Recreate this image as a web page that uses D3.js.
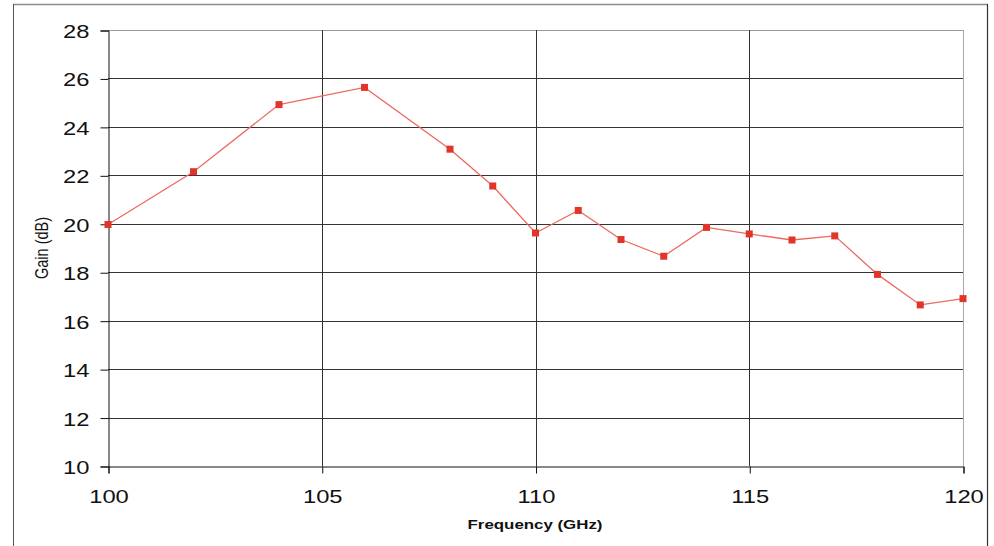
<!DOCTYPE html>
<html>
<head>
<meta charset="utf-8">
<script src="https://cdn.jsdelivr.net/npm/d3@7"></script>
<style>
  html, body { margin: 0; padding: 0; background: #fff; }
  svg { display: block; font-family: "Liberation Sans", Arial, sans-serif; }
</style>
</head>
<body>
<svg id="chart" width="994" height="546"></svg>
<script>
// Measured gain versus frequency
const frequencies = [100, 102, 104, 106, 108, 109, 110, 111, 112, 113, 114, 115, 116, 117, 118, 119, 120];
const gains = [19.97, 22.15, 24.92, 25.63, 23.08, 21.56, 19.62, 20.55, 19.35, 18.66, 19.85, 19.58, 19.33, 19.5, 17.91, 16.65, 16.91];
const xTicks = [100, 105, 110, 115, 120];
const yTicks = [10, 12, 14, 16, 18, 20, 22, 24, 26, 28];
const xTitle = "Frequency (GHz)";
const yTitle = "Gain (dB)";

const svg = d3.select("#chart");
const plot = { left: 108, top: 30, right: 963, bottom: 466 };
const stretch = 1.25; // wide lettering

const x = d3.scaleLinear().domain([100, 120]).range([plot.left, plot.right]);
const y = d3.scaleLinear().domain([10, 28]).range([plot.bottom, plot.top]);

// outer frame
svg.append("line").attr("x1", 13).attr("x2", 988).attr("y1", 4.5).attr("y2", 4.5)
  .attr("stroke", "#8c8c8c").attr("stroke-width", 1.5);
svg.append("line").attr("x1", 13.5).attr("x2", 13.5).attr("y1", 4).attr("y2", 546)
  .attr("stroke", "#555").attr("stroke-width", 1);
svg.append("line").attr("x1", 987.5).attr("x2", 987.5).attr("y1", 4).attr("y2", 546)
  .attr("stroke", "#333").attr("stroke-width", 1.2);

// horizontal grid
svg.append("g").selectAll("line").data(yTicks.filter(d => d > 10)).join("line")
  .attr("x1", plot.left).attr("x2", plot.right)
  .attr("y1", d => Math.round(y(d)) + 0.5).attr("y2", d => Math.round(y(d)) + 0.5)
  .attr("stroke", d => d === 28 ? "#999" : "#333").attr("stroke-width", 1);

// vertical grid
svg.append("g").selectAll("line").data(xTicks.filter(d => d > 100 && d < 120)).join("line")
  .attr("x1", d => Math.round(x(d)) + 0.5).attr("x2", d => Math.round(x(d)) + 0.5)
  .attr("y1", plot.top).attr("y2", plot.bottom)
  .attr("stroke", "#333").attr("stroke-width", 1);

// right border of plot area
svg.append("line").attr("x1", plot.right + 0.5).attr("x2", plot.right + 0.5)
  .attr("y1", plot.top).attr("y2", plot.bottom).attr("stroke", "#aaa");

// y axis
const yAxis = d3.axisLeft(y).tickValues(yTicks).tickSize(8).tickPadding(10).tickFormat(d3.format("d"));
const gy = svg.append("g").attr("transform", `translate(${plot.left + 0.5},0.5)`).call(yAxis);
gy.select(".domain").attr("stroke", "#111");
gy.selectAll(".tick line").attr("stroke", "#111");
gy.selectAll(".tick text")
  .attr("x", null).attr("dy", null).attr("y", 7)
  .attr("font-size", 19).attr("fill", "#111").attr("font-family", "Liberation Sans, Arial")
  .attr("transform", `translate(-19,0) scale(${stretch},1)`);

// x axis
const xAxis = d3.axisBottom(x).tickValues(xTicks).tickSize(7).tickFormat(d3.format("d"));
const gx = svg.append("g").attr("transform", `translate(0.5,${plot.bottom + 0.5})`).call(xAxis);
gx.select(".domain").attr("stroke", "#111");
gx.selectAll(".tick line").attr("stroke", "#111");
gx.selectAll(".tick text")
  .attr("y", null).attr("dy", null)
  .attr("font-size", 19).attr("fill", "#111").attr("font-family", "Liberation Sans, Arial")
  .attr("transform", `translate(0,36) scale(${stretch},1)`);

// axis titles
svg.append("text")
  .attr("transform", `translate(535,529) scale(${stretch},1)`)
  .attr("text-anchor", "middle").attr("font-size", 13.5).attr("font-weight", "bold")
  .attr("fill", "#111").text(xTitle);
svg.append("text")
  .attr("transform", `translate(48,248) scale(${stretch},1) rotate(-90)`)
  .attr("text-anchor", "middle").attr("font-size", 14.5)
  .attr("fill", "#111").text(yTitle);

// series line and markers
const pts = frequencies.map((f, i) => [f, gains[i]]);
svg.append("path").datum(pts)
  .attr("fill", "none").attr("stroke", "#ec6a5f").attr("stroke-width", 1.3)
  .attr("d", d3.line().x(d => x(d[0])).y(d => y(d[1])));
svg.append("g").selectAll("rect").data(pts).join("rect")
  .attr("x", d => x(d[0]) - 3.5).attr("y", d => y(d[1]) - 3.5)
  .attr("width", 7).attr("height", 7).attr("fill", "#e3342a");
</script>
</body>
</html>
